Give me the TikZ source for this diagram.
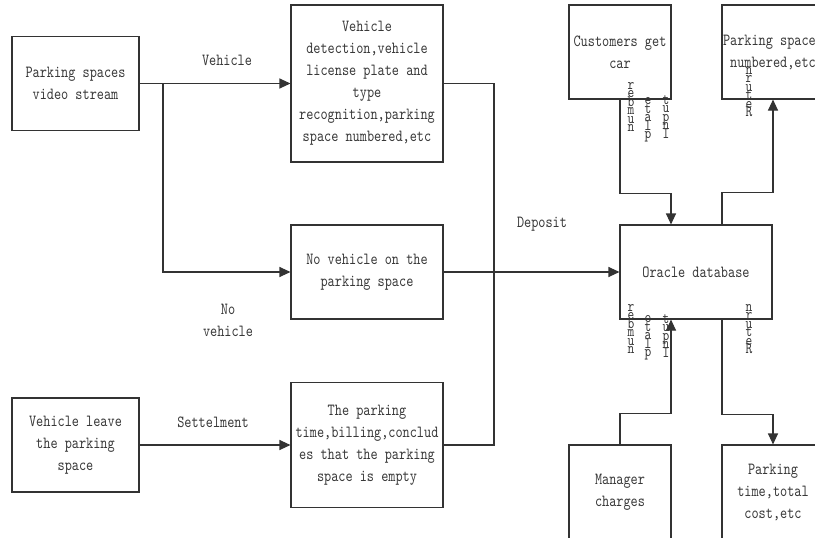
\documentclass[tikz,border=0pt]{standalone}
\usepackage{fontspec}
\setmainfont[FakeStretch=0.8]{lmmono10-regular.otf}
\usetikzlibrary{arrows.meta,positioning}
\colorlet{linegray}{black!80}
\colorlet{txtgray}{black!78}
\newcommand{\bigw}{152pt}
\newcommand{\boxh}{94pt}
\tikzset{
    boxsty/.style={draw=linegray,line width=1.1pt,rectangle,align=center,text=txtgray,inner sep=1pt,minimum height=\boxh,font=\fontsize{17}{22}\selectfont},
    srcsty/.style={boxsty,minimum width=127pt},
    procsty/.style={boxsty,minimum width=\bigw},
    dbsty/.style={boxsty,minimum width=102pt},
    lblsty/.style={align=center,text=txtgray,font=\fontsize{17}{22}\selectfont},
    stksty/.style={align=center,text=txtgray,inner sep=0pt,font={\fontsize{16}{8.5}\selectfont\lineskiplimit=-20pt}},
    consty/.style={draw=linegray,line width=1.1pt},
}
\newcommand{\numstk}{r\\e\\b\\m\\u\\n}
\newcommand{\platestk}{e\\t\\a\\l\\p}
\newcommand{\inputstk}{t\\u\\p\\n\\I}
\newcommand{\retstk}{n\\r\\u\\t\\e\\R}

\begin{document}
\begin{tikzpicture}[x=1pt,y=-1pt,>={Triangle[length=11pt,width=10pt]}]
  \useasboundingbox (0,0) rectangle (815,538);

  % left column
  \node[srcsty] (video) at (75.5,83.5) {Parking spaces\\video stream};
  \node[srcsty] (leave) at (75.5,445) {Vehicle leave\\the parking\\space};

  % middle column
  \node[procsty,minimum height=157pt] (detect) at (367,83.5)
    {Vehicle\\detection,vehicle\\license plate and\\type\\recognition,parking\\space numbered,etc};
  \node[procsty] (novehicle) at (367,272) {No vehicle on the\\parking space};
  \node[procsty,minimum height=125pt] (timing) at (367,445)
    {The parking\\time,billing,conclud\\es that the parking\\space is empty};

  % right part
  \node[procsty] (oracle) at (696,272) {Oracle database};
  \node[dbsty] (customers) at (620,52) {Customers get\\car};
  \node[dbsty] (spaces) at (773,52) {Parking spaces\\numbered,etc};
  \node[dbsty,minimum height=95pt] (manager) at (620,492.5) {Manager\\charges};
  \node[dbsty,minimum height=95pt] (cost) at (773,492.5) {Parking\\time,total\\cost,etc};

  % labels
  \node[lblsty] (vehlbl) at (227,60) {Vehicle};
  \node[lblsty] (novehlbl) at (228,320) {No\\vehicle};
  \node[lblsty] (settlbl) at (213,422) {Settelment};
  \node[lblsty] (deplbl) at (542,224) {Deposit};

  \node[stksty] (cnum) at (631,107) {\numstk};
  \node[stksty] (cplate) at (648,120) {\platestk};
  \node[stksty] (cinput) at (666,117) {\inputstk};
  \node[stksty] (sret) at (749,92) {\retstk};
  \node[stksty] (onum) at (631,329) {\numstk};
  \node[stksty] (oplate) at (648,338) {\platestk};
  \node[stksty] (oinput) at (666,336) {\inputstk};
  \node[stksty] (oret) at (749,329) {\retstk};

  % connectors
  \coordinate (split) at (163,83.5);
  \coordinate (join) at (494,272);
  \draw[consty,->] (video) -- (detect);
  \draw[consty,->] (split) |- (novehicle.west);
  \draw[consty] (detect.east) -| (join);
  \draw[consty] (timing.east) -| (join);
  \draw[consty,->] (novehicle) -- (oracle);
  \draw[consty,->] (leave) -- (timing);

  \draw[consty,->] (customers.south) -- ++(0,94) -| ([xshift=-25pt]oracle.north);
  \draw[consty,->] ([xshift=26pt]oracle.north) -- ++(0,-32) -| (spaces.south);
  \draw[consty,->] (manager.north) -- ++(0,-31) -| ([xshift=-25pt]oracle.south);
  \draw[consty,->] ([xshift=26pt]oracle.south) -- ++(0,95) -| (cost.north);
\end{tikzpicture}
\end{document}
